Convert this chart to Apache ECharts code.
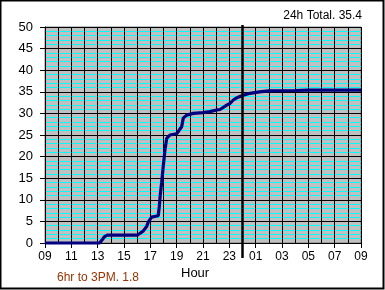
<!DOCTYPE html>
<html><head><meta charset="utf-8">
<script src="https://cdn.jsdelivr.net/npm/echarts@6/dist/echarts.min.js"></script>
<style>html,body{margin:0;padding:0;background:#fff}#c{width:385px;height:290px}</style>
</head><body><div id="c"></div>
<script>
// hours since 09:00
const hours = [0,4.15,4.3,4.5,4.7,7.0,7.2,7.47,7.72,7.85,8.1,8.6,8.68,8.75,8.86,8.98,9.11,9.24,9.49,10.0,10.12,10.38,10.5,10.76,11.26,12.0,12.53,13.04,13.3,13.8,14.05,14.3,14.56,15.06,15.57,16.3,17.0,19.0,20.0,24];
const rain  = [0,0,0.6,1.4,1.8,1.8,2.2,2.8,3.8,4.9,6.0,6.3,8.4,11.0,14.0,17.7,21.5,24.2,25.0,25.3,25.3,26.9,28.9,29.6,30.0,30.2,30.4,30.8,30.9,31.9,32.3,33.1,33.6,34.2,34.65,35.0,35.2,35.3,35.4,35.4];
const yTicks = [0,5,10,15,20,25,30,35,40,45,50];
const xLabelStartHour = 9;
const titleText = '24h Total. 35.4';
const subText = '6hr to 3PM. 1.8';
const axisName = 'Hour';
const midnightOffset = 15;

const font = '"Liberation Sans", Arial, sans-serif';
const chart = echarts.init(document.getElementById('c'), null, {renderer:'canvas'});
const data = hours.map((h,i)=>[h, rain[i]]);
chart.setOption({
  animation:false,
  backgroundColor:'#fff',
  grid:{left:45, top:27, width:316, height:216, show:true, backgroundColor:'#c0c0c0', borderColor:'#808080', borderWidth:1},
  xAxis:{type:'value', min:0, max:24, interval:2,
    axisLine:{show:true, onZero:false, lineStyle:{color:'#000', width:1}},
    axisTick:{show:true, length:5, lineStyle:{color:'#000'}},
    axisLabel:{color:'#000', fontSize:12, fontFamily:font, margin:8,
      formatter:v=>{const h=(xLabelStartHour+v)%24;return (h<10?'0':'')+h;}},
    splitLine:{show:true, lineStyle:{color:'#000', width:1}},
    minorTick:{show:false, splitNumber:2},
    minorSplitLine:{show:true, lineStyle:{color:'#000', width:1}}
  },
  yAxis:{type:'value', min:yTicks[0], max:yTicks[yTicks.length-1], interval:5,
    axisLine:{show:true, lineStyle:{color:'#000', width:1}},
    axisTick:{show:true, length:5, lineStyle:{color:'#000'}},
    axisLabel:{color:'#000', fontSize:13, fontFamily:font, margin:12},
    splitLine:{show:true, lineStyle:{color:'#000', width:1}},
    minorTick:{show:false, splitNumber:5},
    minorSplitLine:{show:true, lineStyle:{color:'#00ffff', width:1}}
  },
  series:[{type:'line', data:data, showSymbol:false, symbol:'none',
    lineStyle:{color:'#000080', width:3.2}, clip:false, z:5}]
});
const p0 = chart.convertToPixel({gridIndex:0},[midnightOffset,50]);
const p1 = chart.convertToPixel({gridIndex:0},[midnightOffset,0]);
chart.setOption({graphic:[
  {type:'line', shape:{x1:p0[0], y1:p0[1]-2, x2:p1[0], y2:p1[1]+15}, style:{stroke:'#000', lineWidth:2.5}, z:10},
  {type:'text', right:23, top:10, style:{text:titleText, fill:'#000', font:'12px '+font}},
  {type:'text', left:57, top:272, style:{text:subText, fill:'#993300', font:'12px '+font}},
  {type:'text', left:181, top:267, style:{text:axisName, fill:'#000', font:'13px '+font}},
  {type:'rect', shape:{x:0.5, y:0.5, width:383, height:288}, style:{fill:'none', stroke:'#000', lineWidth:2}, z:20}
]});
</script></body></html>
